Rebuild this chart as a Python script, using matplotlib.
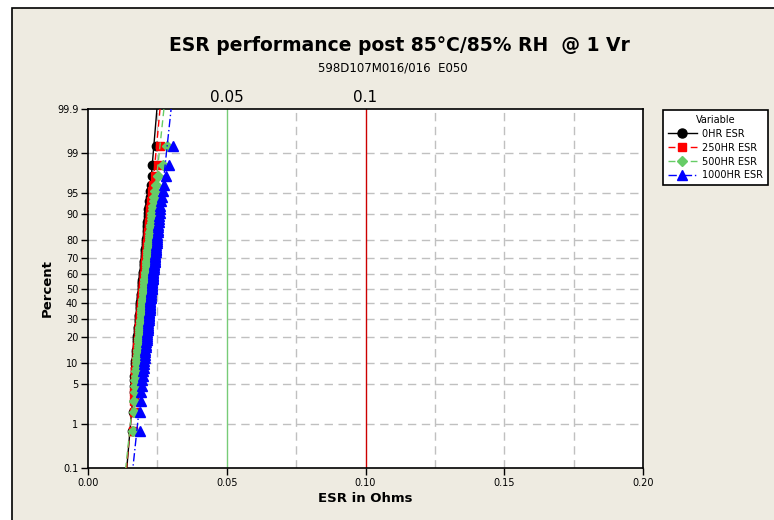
import numpy as np
import matplotlib as mpl
mpl.use('Agg')
import matplotlib.pyplot as plt
from matplotlib.patches import Rectangle
from statistics import NormalDist

# ESR readings in milliohms, sorted
esr_0hr = [16.0, 16.3, 16.4, 16.5, 16.6, 16.6, 16.7, 16.8, 16.9, 17.0,
           17.1, 17.2, 17.3, 17.3, 17.4, 17.5, 17.6, 17.6, 17.7, 17.8,
           17.8, 17.9, 17.9, 18.0, 18.1, 18.1, 18.2, 18.3, 18.3, 18.4,
           18.4, 18.5, 18.5, 18.6, 18.6, 18.7, 18.7, 18.8, 18.8, 18.9,
           18.9, 19.0, 19.0, 19.1, 19.1, 19.2, 19.2, 19.3, 19.3, 19.4,
           19.4, 19.5, 19.5, 19.5, 19.6, 19.6, 19.7, 19.7, 19.8, 19.8,
           19.9, 19.9, 20.0, 20.0, 20.1, 20.1, 20.2, 20.2, 20.3, 20.4,
           20.4, 20.5, 20.5, 20.6, 20.6, 20.7, 20.8, 20.8, 20.9, 21.0,
           21.0, 21.1, 21.1, 21.2, 21.2, 21.3, 21.4, 21.4, 21.5, 21.6,
           21.7, 21.8, 21.9, 22.0, 22.2, 22.4, 22.8, 22.9, 23.2, 24.4]
esr_250hr = [16.1, 16.4, 16.5, 16.6, 16.8, 16.9, 17.0, 17.1, 17.2, 17.3,
             17.4, 17.5, 17.6, 17.7, 17.8, 17.8, 17.9, 18.0, 18.1, 18.2,
             18.2, 18.3, 18.4, 18.4, 18.5, 18.5, 18.6, 18.7, 18.7, 18.8,
             18.8, 18.9, 18.9, 19.0, 19.0, 19.1, 19.1, 19.2, 19.2, 19.3,
             19.3, 19.4, 19.4, 19.5, 19.5, 19.6, 19.6, 19.7, 19.7, 19.8,
             19.8, 19.9, 19.9, 20.0, 20.0, 20.1, 20.1, 20.2, 20.2, 20.3,
             20.4, 20.4, 20.5, 20.5, 20.6, 20.6, 20.7, 20.7, 20.8, 20.9,
             20.9, 21.0, 21.0, 21.1, 21.2, 21.2, 21.3, 21.4, 21.4, 21.5,
             21.6, 21.6, 21.7, 21.8, 21.9, 21.9, 22.0, 22.1, 22.2, 22.3,
             22.4, 22.5, 22.6, 22.7, 23.0, 23.2, 23.6, 24.0, 25.3, 25.9]
esr_500hr = [16.3, 16.6, 16.7, 16.9, 17.0, 17.1, 17.2, 17.4, 17.5, 17.6,
             17.7, 17.8, 17.9, 18.0, 18.1, 18.2, 18.3, 18.4, 18.4, 18.5,
             18.6, 18.7, 18.7, 18.8, 18.9, 18.9, 19.0, 19.1, 19.1, 19.2,
             19.3, 19.3, 19.4, 19.5, 19.5, 19.6, 19.6, 19.7, 19.7, 19.8,
             19.8, 19.9, 19.9, 20.0, 20.1, 20.1, 20.2, 20.2, 20.3, 20.3,
             20.4, 20.4, 20.5, 20.6, 20.6, 20.7, 20.7, 20.8, 20.8, 20.9,
             21.0, 21.0, 21.1, 21.1, 21.2, 21.2, 21.3, 21.4, 21.4, 21.5,
             21.6, 21.6, 21.7, 21.8, 21.8, 21.9, 22.0, 22.0, 22.1, 22.2,
             22.3, 22.4, 22.4, 22.5, 22.6, 22.7, 22.8, 22.9, 23.0, 23.1,
             23.2, 23.3, 23.5, 23.7, 23.9, 24.2, 24.6, 25.2, 26.9, 28.4]
esr_1000hr = [18.8, 18.9, 19.0, 19.2, 19.4, 19.6, 19.8, 19.9, 20.1, 20.2,
              20.3, 20.4, 20.5, 20.6, 20.7, 20.8, 20.9, 21.0, 21.1, 21.2,
              21.3, 21.3, 21.4, 21.5, 21.5, 21.6, 21.7, 21.7, 21.8, 21.9,
              21.9, 22.0, 22.0, 22.1, 22.1, 22.2, 22.2, 22.3, 22.3, 22.4,
              22.4, 22.5, 22.5, 22.6, 22.6, 22.7, 22.7, 22.8, 22.8, 22.9,
              22.9, 23.0, 23.0, 23.1, 23.2, 23.2, 23.3, 23.3, 23.4, 23.5,
              23.5, 23.6, 23.6, 23.7, 23.8, 23.8, 23.9, 24.0, 24.0, 24.1,
              24.2, 24.2, 24.3, 24.4, 24.4, 24.5, 24.6, 24.6, 24.7, 24.8,
              24.9, 24.9, 25.0, 25.1, 25.2, 25.3, 25.4, 25.5, 25.6, 25.7,
              25.8, 25.9, 26.1, 26.3, 26.6, 26.9, 27.4, 28.0, 29.1, 30.6]

series_names = ["0HR ESR", "250HR ESR", "500HR ESR", "1000HR ESR"]
pct_ticks = [0.1, 1, 5, 10, 20, 30, 40, 50, 60, 70, 80, 90, 95, 99, 99.9]
pct_labels = ["0.1", "1", "5", "10", "20", "30", "40", "50", "60", "70",
              "80", "90", "95", "99", "99.9"]
x_ticks = [0.00, 0.05, 0.10, 0.15, 0.20]
x_grid = [0.025, 0.075, 0.125, 0.15, 0.175]
ref_vals = [0.05, 0.1]
ref_labels = ["0.05", "0.1"]

colors = ["black", "#ff0000", "#66cc66", "#0000ff"]
markers = ["o", "s", "D", "^"]
msizes = [6.0, 5.2, 5.0, 7.0]
lstyles = ["-", (0, (5, 3)), (0, (5, 3)), (0, (6, 2, 1, 2))]

nd = NormalDist()
zq = lambda p: nd.inv_cdf(p)
zlim = zq(0.999)

bg = "#eeebe1"
fig = plt.figure(figsize=(7.74, 5.20), dpi=100, facecolor="white")
fig.patches.append(Rectangle((12 / 774, -0.05), 1.1, 1 - 8 / 520 + 0.05,
                             transform=fig.transFigure, facecolor=bg,
                             edgecolor="black", linewidth=1.2, zorder=-10))

ax = fig.add_axes([88 / 774, 52 / 520, 555 / 774, 359 / 520])
ax.set_facecolor("white")

# grid
for p in pct_ticks[1:-1]:
    ax.axhline(zq(p / 100), color="#c0c0c0", lw=1, ls=(0, (6, 4)), zorder=1)
for gx in x_grid:
    ax.axvline(gx, color="#c0c0c0", lw=1, ls=(0, (6, 4)), zorder=1)

# reference lines
ax.axvline(ref_vals[0], color="#77cc77", lw=1, zorder=2)
ax.axvline(ref_vals[1], color="#cc0000", lw=1, zorder=2)
for v, lab in zip(ref_vals, ref_labels):
    ax.text(v, 1.012, lab, transform=ax.get_xaxis_transform(), ha="center",
            va="bottom", fontsize=11)

all_data = [esr_0hr, esr_250hr, esr_500hr, esr_1000hr]
handles = []
for k, d in enumerate(all_data):
    x = np.sort(np.array(d)) / 1000.0
    n = len(x)
    y = [zq((i - 0.3) / (n + 0.4)) for i in range(1, n + 1)]
    mu, sd = x.mean(), x.std(ddof=1)
    zz = np.array([-3.5, 3.5])
    ax.plot(mu + zz * sd, zz, color=colors[k], ls=lstyles[k], lw=1,
            zorder=3 + k)
    ax.plot(x, y, ls="none", marker=markers[k], ms=msizes[k],
            color=colors[k], mec=colors[k], zorder=3 + k)
    h, = ax.plot([], [], color=colors[k], ls=lstyles[k], lw=1,
                 marker=markers[k], ms=msizes[k] + 0.5, label=series_names[k])
    handles.append(h)

ax.set_xlim(0, 0.2)
ax.set_ylim(-zlim, zlim)
ax.set_xticks(x_ticks)
ax.set_xticklabels(["%.2f" % v for v in x_ticks])
ax.set_yticks([zq(p / 100) for p in pct_ticks])
ax.set_yticklabels(pct_labels)
ax.tick_params(labelsize=7, length=5, width=1, direction="out", pad=2)
for s in ax.spines.values():
    s.set_linewidth(1.2)

ax.set_xlabel("ESR in Ohms", fontsize=9.5, fontweight="bold", labelpad=3)
ax.set_ylabel("Percent", fontsize=9.5, fontweight="bold", labelpad=2)

fig.text(0.516, 0.913, "ESR performance post 85°C/85% RH  @ 1 Vr",
         ha="center", va="center", fontsize=13.5, fontweight="bold")
fig.text(0.508, 0.869, "598D107M016/016  E050", ha="center", va="center",
         fontsize=8.5)

leg = fig.legend(handles=handles, title="Variable", loc="upper left",
                 bbox_to_anchor=(663 / 774, 1 - 110 / 520), fontsize=7,
                 title_fontsize=7, handlelength=3.0, handletextpad=0.5,
                 borderpad=0.5, labelspacing=0.4, borderaxespad=0,
                 fancybox=False, framealpha=1, edgecolor="black")
leg.get_frame().set_linewidth(1.2)

fig.savefig("out.png", dpi=100, facecolor=fig.get_facecolor())
